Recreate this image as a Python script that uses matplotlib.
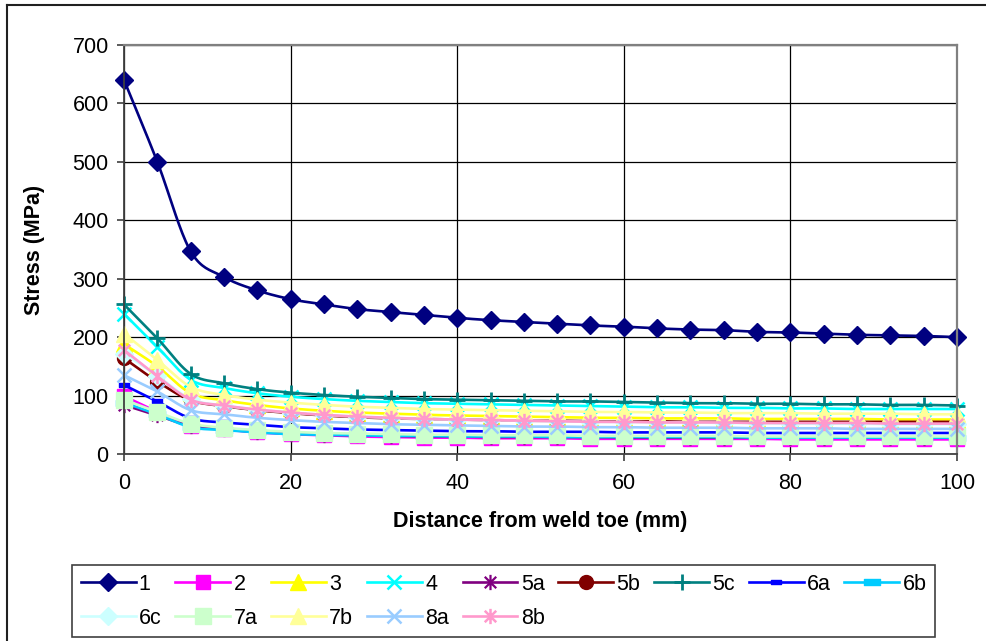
import numpy as np
import matplotlib
matplotlib.use("Agg")
import matplotlib.pyplot as plt
from matplotlib.path import Path
from matplotlib.lines import Line2D

plt.rcParams['font.family'] = ['Liberation Sans', 'DejaVu Sans']

# Distance from weld toe (mm)
distance = list(range(0, 101, 4))

# Stress (MPa) per location
s1 = [640, 500, 347, 303, 280, 265, 256, 248, 243, 238, 233, 229, 226, 223, 220, 218, 215, 213, 212, 209, 208, 206, 204, 203, 202, 200]
s2 = [99, 72, 48, 42, 37, 34, 32, 30, 29, 28, 28, 27, 27, 27, 26, 26, 26, 26, 26, 26, 25, 25, 25, 25, 25, 25]
s3 = [188, 150, 104, 92, 84, 78, 74, 71, 69, 67, 66, 65, 64, 63, 62, 62, 61, 61, 61, 60, 60, 60, 60, 59, 59, 59]
s4 = [240, 183, 127, 113, 104, 98, 94, 91, 89, 87, 86, 85, 84, 83, 82, 81, 80, 80, 79, 79, 78, 78, 77, 77, 77, 77]
s5a = [84, 66, 48, 42, 38, 35, 33, 32, 31, 30, 30, 29, 29, 29, 29, 28, 28, 28, 28, 28, 28, 28, 28, 28, 28, 28]
s5b = [164, 124, 92, 82, 75, 70, 66, 63, 61, 60, 59, 58, 57, 57, 56, 56, 56, 55, 55, 55, 55, 55, 55, 55, 55, 55]
s5c = [256, 198, 137, 121, 111, 105, 101, 98, 96, 94, 93, 92, 91, 90, 90, 89, 88, 87, 87, 86, 86, 85, 85, 84, 84, 83]
s6a = [118, 90, 61, 54, 50, 46, 44, 42, 41, 40, 39, 39, 38, 38, 38, 37, 37, 37, 37, 36, 36, 36, 36, 36, 36, 36]
s6b = [88, 68, 46, 41, 37, 34, 33, 32, 31, 31, 30, 30, 30, 29, 29, 29, 29, 29, 29, 28, 28, 28, 28, 28, 28, 28]
s6c = [172, 134, 94, 83, 76, 71, 67, 64, 62, 60, 59, 58, 57, 56, 55, 55, 54, 54, 53, 53, 52, 52, 52, 51, 51, 51]
s7a = [93, 72, 52, 45, 41, 38, 36, 35, 34, 33, 33, 32, 32, 32, 31, 31, 31, 31, 31, 30, 30, 30, 30, 30, 30, 30]
s7b = [206, 161, 115, 101, 93, 88, 84, 81, 79, 77, 76, 75, 74, 73, 72, 72, 71, 71, 70, 70, 70, 69, 69, 69, 68, 68]
s8a = [135, 107, 75, 68, 62, 58, 55, 53, 51, 50, 49, 48, 47, 47, 46, 46, 45, 45, 45, 44, 44, 44, 43, 43, 43, 43]
s8b = [178, 133, 93, 83, 76, 71, 67, 64, 62, 60, 59, 58, 57, 56, 55, 55, 54, 54, 54, 53, 53, 53, 53, 52, 52, 52]

labels = ['1', '2', '3', '4', '5a', '5b', '5c', '6a', '6b', '6c', '7a', '7b', '8a', '8b']
values = [s1, s2, s3, s4, s5a, s5b, s5c, s6a, s6b, s6c, s7a, s7b, s8a, s8b]

x_ticks = [0, 20, 40, 60, 80, 100]
y_ticks = [0, 100, 200, 300, 400, 500, 600, 700]

# custom marker shapes
asterisk = Path([(0, -1), (0, 1), (-0.75, -0.75), (0.75, 0.75), (-0.75, 0.75), (0.75, -0.75)],
                [Path.MOVETO, Path.LINETO, Path.MOVETO, Path.LINETO, Path.MOVETO, Path.LINETO])
bar = Path([(-1, -0.4), (1, -0.4), (1, 0.4), (-1, 0.4), (-1, -0.4)],
           [Path.MOVETO, Path.LINETO, Path.LINETO, Path.LINETO, Path.CLOSEPOLY])

styles = {
    '1':  dict(color='#000080', marker='D', ms=8.8, mew=1, filled=True),
    '2':  dict(color='#FF00FF', marker='s', ms=10.5, mew=1, filled=True),
    '3':  dict(color='#FFFF00', marker='^', ms=11.5, mew=1, filled=True),
    '4':  dict(color='#00FFFF', marker='x', ms=10.5, mew=1.8, filled=False),
    '5a': dict(color='#800080', marker=asterisk, ms=11, mew=1.6, filled=False),
    '5b': dict(color='#800000', marker='o', ms=10, mew=1, filled=True),
    '5c': dict(color='#008080', marker='+', ms=12, mew=2, filled=False),
    '6a': dict(color='#0000FF', marker=bar, ms=7.5, mew=1, filled=True),
    '6b': dict(color='#00CCFF', marker=bar, ms=12, mew=1, filled=True),
    '6c': dict(color='#CCFFFF', marker='D', ms=8.8, mew=1, filled=True),
    '7a': dict(color='#CCFFCC', marker='s', ms=11, mew=1, filled=True),
    '7b': dict(color='#FFFF99', marker='^', ms=11.5, mew=1, filled=True),
    '8a': dict(color='#99CCFF', marker='x', ms=10.5, mew=1.8, filled=False),
    '8b': dict(color='#FF99CC', marker=asterisk, ms=11, mew=1.8, filled=False),
}

STEPS = 20


def smooth(xs, ys, steps=STEPS):
    """Cubic Bezier smoothing through every point (Catmull-Rom tangents)."""
    p = np.column_stack([xs, ys]).astype(float)
    p_ext = np.vstack([p[0], p, p[-1]])
    t = np.linspace(0, 1, steps, endpoint=False)[:, None]
    out = []
    for i in range(len(p) - 1):
        p0, p1, p2, p3 = p_ext[i], p_ext[i + 1], p_ext[i + 2], p_ext[i + 3]
        c1 = p1 + (p2 - p0) / 6.0
        c2 = p2 - (p3 - p1) / 6.0
        seg = ((1 - t) ** 3) * p1 + 3 * ((1 - t) ** 2) * t * c1 + 3 * (1 - t) * t ** 2 * c2 + t ** 3 * p2
        out.append(seg)
    out.append(p[-1:])
    out = np.vstack(out)
    return out[:, 0], out[:, 1]


fig = plt.figure(figsize=(9.87, 6.41), dpi=100)
L, R, T, B = 124, 957, 45, 454
W, H = 987, 641
ax = fig.add_axes([L / W, 1 - B / H, (R - L) / W, (B - T) / H])

handles = {}
for lab, ys in zip(labels, values):
    st = styles[lab]
    sx, sy = smooth(distance, ys)
    mark_idx = list(range(0, len(sx), STEPS))
    line, = ax.plot(sx, sy, color=st['color'], lw=1.9, marker=st['marker'],
                    markevery=mark_idx, ms=st['ms'], mew=st['mew'],
                    mec=st['color'], mfc=st['color'] if st['filled'] else 'none',
                    label=lab, solid_joinstyle='round', clip_on=False)
    handles[lab] = line

ax.set_xlim(0, 100)
ax.set_ylim(0, 700)
ax.set_xticks(x_ticks)
ax.set_yticks(y_ticks)
ax.grid(True, color='black', lw=0.9)
ax.set_axisbelow(True)

for side in ['left', 'bottom']:
    ax.spines[side].set_color('#404040')
    ax.spines[side].set_linewidth(1.3)
for side in ['top', 'right']:
    ax.spines[side].set_color('#808080')
    ax.spines[side].set_linewidth(1.6)

ax.tick_params(axis='both', direction='out', length=5, width=1.2, color='#404040',
               labelsize=15.5)
ax.tick_params(axis='y', pad=6)
ax.tick_params(axis='x', pad=9)

ax.set_ylabel('Stress (MPa)', fontsize=15.5, fontweight='bold')
ax.yaxis.set_label_coords(-0.095, 0.5)
ax.set_xlabel('Distance from weld toe (mm)', fontsize=15.5, fontweight='bold')
ax.xaxis.set_label_coords(0.5, -0.166)
ax.xaxis.label.set_va('center')

order = ['1', '6c', '2', '7a', '3', '7b', '4', '8a', '5a', '8b', '5b', '5c', '6a', '6b']
leg = fig.legend([handles[k] for k in order], order, ncol=9, loc='upper left',
                 bbox_to_anchor=(72 / W, 1 - 565 / H), borderaxespad=0,
                 fontsize=15.5, frameon=True, fancybox=False, framealpha=1,
                 handlelength=2.55, handletextpad=0.15, columnspacing=0.64,
                 labelspacing=0.6, borderpad=0.4)
leg.get_frame().set_edgecolor('#404040')
leg.get_frame().set_linewidth(1.2)

# chart-area border
fx, fy = 7 / W, 1 - 5 / H
fig.add_artist(Line2D([fx, fx], [0, fy], transform=fig.transFigure, color='#202020', lw=1.5))
fig.add_artist(Line2D([fx, 1], [fy, fy], transform=fig.transFigure, color='#202020', lw=1.5))

fig.savefig('out.png', dpi=100)
